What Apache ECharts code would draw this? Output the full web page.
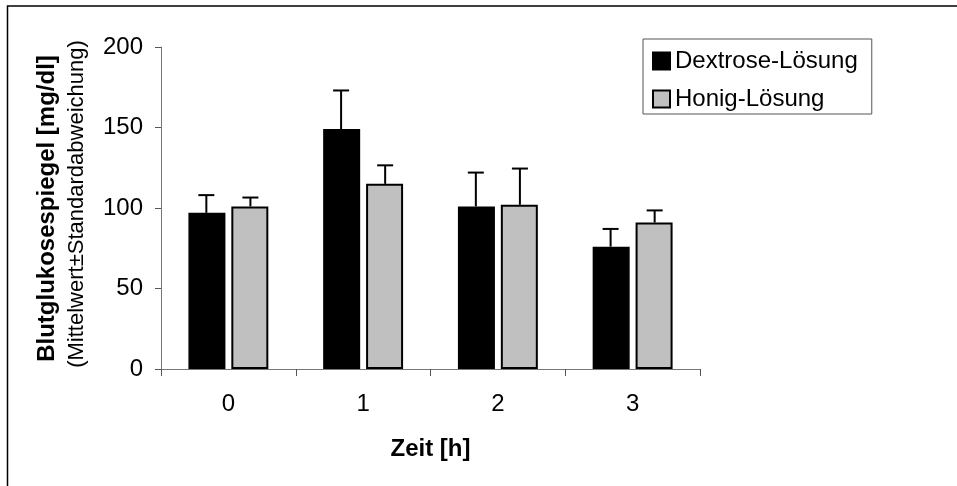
<!DOCTYPE html>
<html>
<head>
<meta charset="utf-8">
<script src="https://cdn.jsdelivr.net/npm/echarts@6/dist/echarts.min.js"></script>
<style>
html,body{margin:0;padding:0;background:#fff;}
#chart{width:957px;height:486px;}
</style>
</head>
<body>
<div id="chart"></div>
<script>
var categories = ['0', '1', '2', '3'];
var dextroseMean = [97, 149, 101, 76];
var dextroseSD = [11, 24, 21, 11];
var honigMean = [101, 115, 102, 91];
var honigSD = [5.5, 11.5, 22.5, 7.5];
var yTicks = [0, 50, 100, 150, 200];
var seriesNames = ['Dextrose-Lösung', 'Honig-Lösung'];
var xTitle = 'Zeit [h]';
var yTitle = 'Blutglukosespiegel [mg/dl]';
var ySubTitle = '(Mittelwert±Standardabweichung)';

var FONT = '"Liberation Sans", Arial, sans-serif';

function errData(means, sds, side) {
  return means.map(function (m, i) { return [i, m, sds[i], side]; });
}

function renderErr(params, api) {
  var cat = api.value(0), val = api.value(1), sd = api.value(2), side = api.value(3);
  var band = api.size([1, 0])[0];
  var base = api.coord([cat, val]);
  var top = api.coord([cat, val + sd]);
  var x = base[0] + side * band * 0.1635;
  var half = 8;
  var st = { stroke: '#000', lineWidth: 2 };
  return {
    type: 'group',
    children: [
      { type: 'line', shape: { x1: x, y1: base[1], x2: x, y2: top[1] }, style: st },
      { type: 'line', shape: { x1: x - half, y1: top[1], x2: x + half, y2: top[1] }, style: st }
    ]
  };
}

var chart = echarts.init(document.getElementById('chart'));
chart.setOption({
  animation: false,
  backgroundColor: '#fff',
  textStyle: { fontFamily: FONT, color: '#000' },
  grid: { left: 161, right: 257, top: 47, bottom: 117, containLabel: false },
  legend: {
    data: seriesNames,
    orient: 'vertical',
    left: 643,
    top: 39,
    icon: 'rect',
    itemWidth: 17,
    itemHeight: 17,
    itemGap: 14,
    padding: [10, 14, 3, 9],
    borderColor: '#555',
    borderWidth: 1,
    textStyle: { fontFamily: FONT, fontSize: 24, color: '#000' }
  },
  xAxis: {
    type: 'category',
    data: categories,
    boundaryGap: true,
    axisLine: { lineStyle: { color: '#777', width: 1 } },
    axisTick: { show: true, length: 7, lineStyle: { color: '#555' } },
    axisLabel: { fontFamily: FONT, fontSize: 24, color: '#000', margin: 23 },
    splitLine: { show: false }
  },
  yAxis: {
    type: 'value',
    min: yTicks[0],
    max: yTicks[yTicks.length - 1],
    interval: 50,
    axisLine: { show: true, lineStyle: { color: '#777', width: 1 } },
    axisTick: { show: true, length: 6, lineStyle: { color: '#555' } },
    axisLabel: { fontFamily: FONT, fontSize: 24, color: '#000', margin: 18 },
    splitLine: { show: false }
  },
  graphic: [
    { type: 'rect', shape: { x: 7.5, y: 6, width: 1200, height: 800 }, style: { fill: 'none', stroke: '#000', lineWidth: 1.5 }, silent: true, z: -10 },
    { type: 'text', x: 47, y: 208.5, rotation: Math.PI / 2,
      style: { text: yTitle, font: 'bold 24px ' + FONT, fill: '#000', textAlign: 'center', textVerticalAlign: 'middle' } },
    { type: 'text', x: 77, y: 204, rotation: Math.PI / 2,
      style: { text: ySubTitle, font: '22px ' + FONT, fill: '#000', textAlign: 'center', textVerticalAlign: 'middle' } },
    { type: 'text', x: 430.5, y: 449, 
      style: { text: xTitle, font: 'bold 24px ' + FONT, fill: '#000', textAlign: 'center', textVerticalAlign: 'middle' } }
  ],
  series: [
    {
      name: seriesNames[0], type: 'bar', data: dextroseMean,
      barWidth: 37, barGap: '16%',
      itemStyle: { color: '#000', borderColor: '#000', borderWidth: 1.5 }
    },
    {
      name: seriesNames[1], type: 'bar', data: honigMean,
      barWidth: 37, barGap: '16%',
      itemStyle: { color: '#c0c0c0', borderColor: '#000', borderWidth: 2 }
    },
    {
      type: 'custom', name: 'errD', renderItem: renderErr, data: errData(dextroseMean, dextroseSD, -1),
      encode: { x: 0, y: 1 }, z: 5, silent: true
    },
    {
      type: 'custom', name: 'errH', renderItem: renderErr, data: errData(honigMean, honigSD, 1),
      encode: { x: 0, y: 1 }, z: 5, silent: true
    }
  ]
});
</script>
</body>
</html>
